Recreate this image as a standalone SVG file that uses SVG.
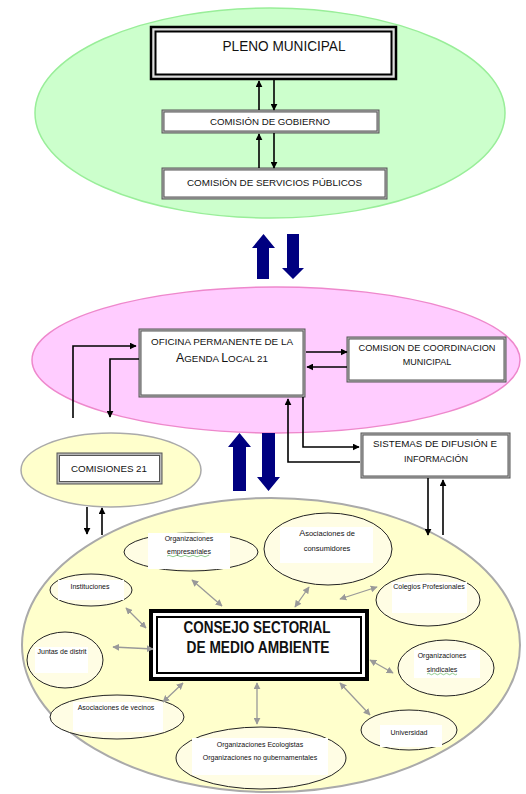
<svg xmlns="http://www.w3.org/2000/svg" width="526" height="794" viewBox="0 0 526 794">
<style>
text{font-family:"Liberation Sans",Arial,sans-serif;fill:#111;text-anchor:middle}
.t9{font-size:9px}
.t7{font-size:7px}
.dblo{fill:#b8b8b8;stroke:#555;stroke-width:1}
.dbli{fill:#fff;stroke:#555;stroke-width:1}
.ln{fill:none;stroke:#000;stroke-width:1.6}
.gl{fill:none;stroke:#999;stroke-width:1.3}
.sm{fill:#fffde4;stroke:#222;stroke-width:1}
.wb{fill:#fff}
.blue{fill:#000080}
</style>
<defs>
<marker id="ah" viewBox="0 0 10 10" refX="9" refY="5" markerWidth="7" markerHeight="7" markerUnits="userSpaceOnUse" orient="auto"><path d="M0,0L10,5L0,10z" fill="#000"/></marker>
<marker id="gh" viewBox="0 0 10 10" refX="9" refY="5" markerWidth="7" markerHeight="7" markerUnits="userSpaceOnUse" orient="auto-start-reverse"><path d="M0,0L10,5L0,10z" fill="#999"/></marker>
</defs>
<rect width="526" height="794" fill="#fff"/>

<g id="zona-gobierno">
<ellipse cx="270" cy="113" rx="235" ry="105" fill="#ccffcc" stroke="#99ee99" stroke-width="1.5"/>
</g>
<g id="zona-agenda">
<ellipse cx="276" cy="360" rx="244" ry="73" fill="#ffccff" stroke="#ee88cc" stroke-width="1.5"/>
</g>
<g id="comisiones21-zona">
<ellipse cx="111" cy="470" rx="90" ry="37" fill="#ffffcc" stroke="#aaa" stroke-width="1.5"/>
</g>
<g id="zona-participacion">
<ellipse cx="271" cy="645" rx="249" ry="147" fill="#ffffcc" stroke="#aaa" stroke-width="2"/>
</g>

<g id="pleno">
<rect x="151" y="27" width="245" height="52" fill="#ddd" stroke="#000" stroke-width="2.5"/>
<rect x="155.5" y="31.5" width="236" height="43" fill="#fff" stroke="#000" stroke-width="2"/>
<text x="284" y="51" font-size="14" textLength="123" lengthAdjust="spacingAndGlyphs">PLENO MUNICIPAL</text>
</g>
<g id="gobierno">
<rect class="dblo" x="162" y="110" width="217" height="23"/>
<rect class="dbli" x="164" y="112" width="213" height="19"/>
<text class="t9" x="270" y="124.5" textLength="120" lengthAdjust="spacingAndGlyphs">COMISIÓN DE GOBIERNO</text>
</g>
<g id="servicios">
<rect class="dblo" x="162" y="168" width="225" height="31"/>
<rect class="dbli" x="164" y="170" width="221" height="27"/>
<text class="t9" x="274.5" y="186" textLength="175" lengthAdjust="spacingAndGlyphs">COMISIÓN DE SERVICIOS PÚBLICOS</text>
</g>

<g id="flechas-azules">
<path class="blue" d="M257,279V248H252L263.5,234L275,248H269V279Z"/>
<path class="blue" d="M287,234V268H282L293,279L304,268H299V234Z"/>
<path class="blue" d="M233,491V447H228L239.5,433L251,447H246V491Z"/>
<path class="blue" d="M262,433V477H257L268.5,491L280,477H275V433Z"/>
</g>

<g id="oficina">
<rect class="dblo" x="139" y="329" width="166" height="68"/>
<rect class="dbli" x="141" y="331" width="162" height="64"/>
<text class="t9" x="222" y="345" font-size="9.5" textLength="142" lengthAdjust="spacingAndGlyphs">OFICINA PERMANENTE DE LA</text>
<text x="222" y="362" font-size="9.5" textLength="92" lengthAdjust="spacingAndGlyphs"><tspan font-size="12">A</tspan>GENDA <tspan font-size="12">L</tspan>OCAL 21</text>
</g>
<g id="coordinacion">
<rect class="dblo" x="347" y="337" width="159" height="45"/>
<rect class="dbli" x="349" y="339" width="155" height="41"/>
<text class="t9" x="427" y="351" textLength="137" lengthAdjust="spacingAndGlyphs">COMISION DE COORDINACION</text>
<text class="t9" x="427" y="365">MUNICIPAL</text>
</g>
<g id="sistemas">
<rect class="dblo" x="361" y="433" width="149" height="45"/>
<rect class="dbli" x="363" y="435" width="145" height="41"/>
<text class="t9" x="435" y="447" font-size="9.5" textLength="124" lengthAdjust="spacingAndGlyphs">SISTEMAS DE DIFUSIÓN E</text>
<text class="t9" x="436" y="462" font-size="9.5">INFORMACIÓN</text>
</g>
<g id="comisiones21">
<rect class="dblo" x="57" y="453" width="105" height="31"/>
<rect class="dbli" x="59.5" y="455.5" width="100" height="26"/>
<text x="109" y="471.5" font-size="9.5" textLength="76" lengthAdjust="spacingAndGlyphs">COMISIONES 21</text>
</g>

<g id="consejo">
<rect x="151" y="611" width="216" height="68" fill="#fff" stroke="#000" stroke-width="4"/>
<rect x="157" y="617" width="204" height="56" fill="#fff" stroke="#000" stroke-width="2"/>
<text x="257" y="633" font-size="16" font-weight="bold" textLength="147" lengthAdjust="spacingAndGlyphs">CONSEJO SECTORIAL</text>
<text x="258" y="653" font-size="16" font-weight="bold" textLength="143" lengthAdjust="spacingAndGlyphs">DE MEDIO AMBIENTE</text>
</g>

<g id="empresariales">
<ellipse class="sm" cx="191" cy="552" rx="67" ry="19"/>
<rect class="wb" x="148" y="533" width="82" height="36"/>
<text class="t7" x="189" y="540.5">Organizaciones</text>
<text class="t7" x="189" y="553.5">empresariales</text>
<path d="M167,556q2,-1.5 4,0t4,0t4,0t4,0t4,0t4,0t4,0t4,0t4,0t4,0t2,0" fill="none" stroke="#4a4" stroke-width="0.6"/>
</g>
<g id="consumidores">
<ellipse class="sm" cx="328" cy="549" rx="64" ry="36"/>
<rect class="wb" x="280" y="527" width="93" height="36"/>
<text x="327" y="536" font-size="7.5"><tspan font-size="9">A</tspan>sociaciones de</text>
<text x="327" y="551" font-size="7.5">consumidores</text>
</g>
<g id="instituciones">
<ellipse class="sm" cx="91" cy="590" rx="41" ry="16"/>
<rect class="wb" x="58" y="580" width="66" height="20"/>
<text class="t7" x="90" y="588.5">Instituciones</text>
</g>
<g id="colegios">
<ellipse class="sm" cx="428" cy="600" rx="52" ry="26"/>
<rect class="wb" x="392" y="582" width="75" height="31"/>
<text class="t7" x="429" y="588.5">Colegios Profesionales</text>
</g>
<g id="juntas">
<ellipse class="sm" cx="65" cy="660" rx="38" ry="28"/>
<rect class="wb" x="35" y="647" width="53" height="26"/>
<text class="t7" x="62" y="653.5">Juntas de distrit</text>
</g>
<g id="sindicales">
<ellipse class="sm" cx="446" cy="668" rx="48" ry="28"/>
<rect class="wb" x="414" y="650" width="66" height="28"/>
<text class="t7" x="442" y="657.5">Organizaciones</text>
<text class="t7" x="442" y="671.5">sindicales</text>
<path d="M427,674q1.5,-1.5 3,0t3,0t3,0t3,0t3,0t3,0t3,0t3,0t3,0t3,0" fill="none" stroke="#4a4" stroke-width="0.6"/>
</g>
<g id="vecinos">
<ellipse class="sm" cx="117" cy="717" rx="67" ry="22"/>
<rect class="wb" x="73" y="702" width="90" height="30"/>
<text class="t7" x="116" y="709.5">Asociaciones de vecinos</text>
</g>
<g id="ecologistas">
<ellipse class="sm" cx="261" cy="758" rx="85" ry="31"/>
<rect class="wb" x="192" y="738" width="136" height="37"/>
<text class="t7" x="260" y="746.5">Organizaciones Ecologistas</text>
<text class="t7" x="260" y="759.5">Organizaciones no gubernamentales</text>
</g>
<g id="universidad">
<ellipse class="sm" cx="409" cy="730" rx="48" ry="20"/>
<rect class="wb" x="380" y="725" width="62" height="22"/>
<text class="t7" x="409" y="734.5">Universidad</text>
</g>

<g id="conectores">
<path class="ln" d="M259,110V81" marker-end="url(#ah)"/>
<path class="ln" d="M274,80V110" marker-end="url(#ah)"/>
<path class="ln" d="M259,168V134" marker-end="url(#ah)"/>
<path class="ln" d="M274,133V168" marker-end="url(#ah)"/>
<path class="ln" d="M306,352H347" marker-end="url(#ah)"/>
<path class="ln" d="M347,367H307" marker-end="url(#ah)"/>
<path class="ln" d="M73,418V346H136" marker-end="url(#ah)"/>
<path class="ln" d="M139,359H110V417" marker-end="url(#ah)"/>
<path class="ln" d="M303,397V447H359" marker-end="url(#ah)"/>
<path class="ln" d="M360,462H288V399" marker-end="url(#ah)"/>
<path class="ln" d="M87,507V534" marker-end="url(#ah)"/>
<path class="ln" d="M102,535V508" marker-end="url(#ah)"/>
<path class="ln" d="M428,478V535" marker-end="url(#ah)"/>
<path class="ln" d="M443,535V480" marker-end="url(#ah)"/>
<path class="gl" d="M192,580L222,606" marker-start="url(#gh)" marker-end="url(#gh)"/>
<path class="gl" d="M309,587L295,607" marker-start="url(#gh)" marker-end="url(#gh)"/>
<path class="gl" d="M377,587L340,599" marker-start="url(#gh)" marker-end="url(#gh)"/>
<path class="gl" d="M126,608L146,628" marker-start="url(#gh)" marker-end="url(#gh)"/>
<path class="gl" d="M113,647L153,649" marker-start="url(#gh)" marker-end="url(#gh)"/>
<path class="gl" d="M370,660L393,673" marker-start="url(#gh)" marker-end="url(#gh)"/>
<path class="gl" d="M183,683L163,702" marker-start="url(#gh)" marker-end="url(#gh)"/>
<path class="gl" d="M257,683V724" marker-start="url(#gh)" marker-end="url(#gh)"/>
<path class="gl" d="M340,683L370,715" marker-start="url(#gh)" marker-end="url(#gh)"/>
</g>
</svg>
